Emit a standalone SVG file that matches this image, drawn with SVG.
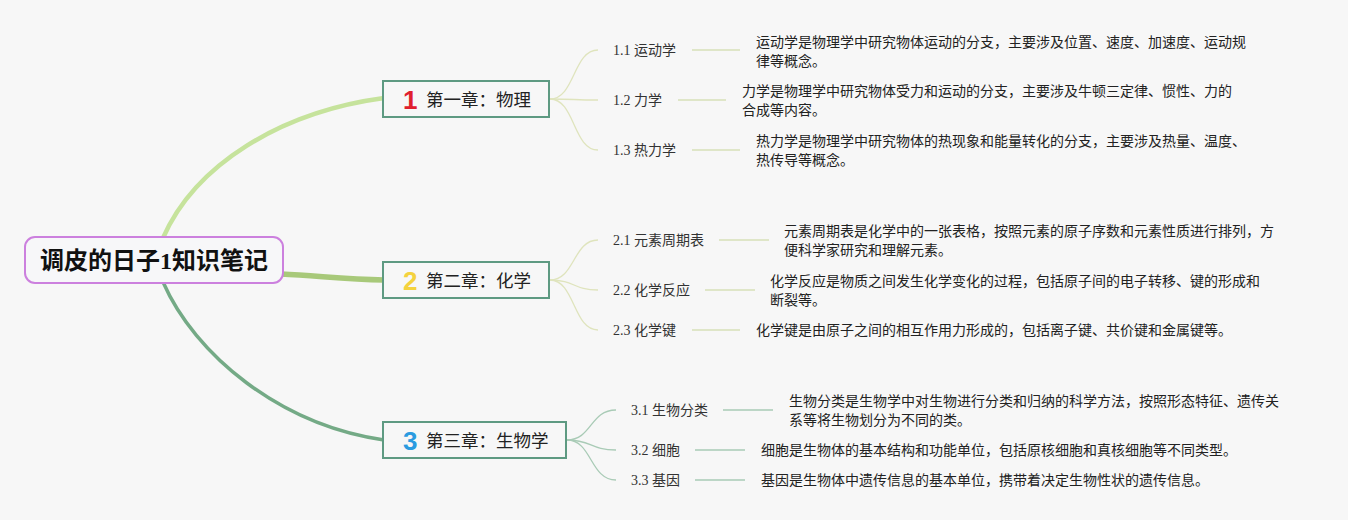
<svg xmlns="http://www.w3.org/2000/svg" width="1348" height="520" viewBox="0 0 1348 520">
<style>
.bg{fill:#f7f7f7}
.root{fill:#f7f7f9;stroke:#cc80de;stroke-width:2}
.roott{font-family:"Liberation Serif","Noto Sans CJK SC",serif;font-size:24px;font-weight:bold;fill:#111}
.chap{fill:#f7f7f7;stroke:#5e9a82;stroke-width:2}
.chapt{font-family:"Noto Sans CJK SC",sans-serif;font-size:17.5px;fill:#222}
.num{font-family:"Liberation Sans","Noto Sans CJK SC",sans-serif;font-size:26px;font-weight:bold}
.lab{font-family:"Liberation Serif","Noto Sans CJK SC",serif;font-size:14px;fill:#333}
.desc{font-family:"Noto Sans CJK SC",sans-serif;font-size:14px;fill:#222}
.s1{fill:none;stroke:#dfe4bd;stroke-width:1.3}
.s3{fill:none;stroke:#a9cbb6;stroke-width:1.3}
.u1{stroke:#dfe6c8;stroke-width:2}
.u3{stroke:#bcd6c6;stroke-width:2}
</style>
<rect class="bg" x="0" y="0" width="1348" height="520"/>
<g id="connectors">
<path d="M163 238 C195 165 280 112 384 98" fill="none" stroke="#c6e39c" stroke-width="4.5"/>
<path d="M281 274 C320 276 345 279 384 280" fill="none" stroke="#a8c97a" stroke-width="5.5"/>
<path d="M163 282 C195 355 280 425 384 440" fill="none" stroke="#74aa86" stroke-width="3.5"/>
<path class="s1" d="M550 99 C575 99 573 50 598 50"/>
<path class="s1" d="M550 99 C575 99 573 100 598 100"/>
<path class="s1" d="M550 99 C575 99 573 150 598 150"/>
<path class="s1" d="M550 280 C575 280 573 240 598 240"/>
<path class="s1" d="M550 280 C575 280 573 290 598 290"/>
<path class="s1" d="M550 280 C575 280 573 330 598 330"/>
<path class="s3" d="M567 440 C592 440 590 410 616 410"/>
<path class="s3" d="M567 440 C592 440 590 450 616 450"/>
<path class="s3" d="M567 440 C592 440 590 480 616 480"/>
<line class="u1" x1="692" y1="50" x2="740" y2="50"/>
<line class="u1" x1="678" y1="100" x2="726" y2="100"/>
<line class="u1" x1="692" y1="150" x2="740" y2="150"/>
<line class="u1" x1="719" y1="240" x2="769" y2="240"/>
<line class="u1" x1="705" y1="290" x2="755" y2="290"/>
<line class="u1" x1="692" y1="330" x2="740" y2="330"/>
<line class="u3" x1="723" y1="410" x2="773" y2="410"/>
<line class="u3" x1="695" y1="450" x2="745" y2="450"/>
<line class="u3" x1="695" y1="480" x2="745" y2="480"/>
</g>
<g id="root">
<rect class="root" x="25" y="237" width="258" height="46" rx="10"/>
<text class="roott" x="154" y="269" text-anchor="middle">调皮的日子1知识笔记</text>
</g>
<g id="chapter1">
<rect class="chap" x="383" y="81" width="166" height="36"/>
<text class="num" x="403" y="109" fill="#e0202e">1</text>
<text class="chapt" x="426" y="106">第一章：物理</text>
</g>
<g id="chapter2">
<rect class="chap" x="383" y="262" width="166" height="36"/>
<text class="num" x="403" y="290" fill="#f4d23e">2</text>
<text class="chapt" x="426" y="287">第二章：化学</text>
</g>
<g id="chapter3">
<rect class="chap" x="383" y="422" width="183" height="36"/>
<text class="num" x="403" y="450" fill="#2b9be0">3</text>
<text class="chapt" x="426" y="447">第三章：生物学</text>
</g>
<g id="n11"><text class="lab" x="613" y="55">1.1 运动学</text>
<text class="desc" x="756" y="47">运动学是物理学中研究物体运动的分支，主要涉及位置、速度、加速度、运动规</text>
<text class="desc" x="756" y="66">律等概念。</text></g>
<g id="n12"><text class="lab" x="613" y="105">1.2 力学</text>
<text class="desc" x="742" y="96">力学是物理学中研究物体受力和运动的分支，主要涉及牛顿三定律、惯性、力的</text>
<text class="desc" x="742" y="115">合成等内容。</text></g>
<g id="n13"><text class="lab" x="613" y="155">1.3 热力学</text>
<text class="desc" x="756" y="146">热力学是物理学中研究物体的热现象和能量转化的分支，主要涉及热量、温度、</text>
<text class="desc" x="756" y="165">热传导等概念。</text></g>
<g id="n21"><text class="lab" x="613" y="245">2.1 元素周期表</text>
<text class="desc" x="784" y="236">元素周期表是化学中的一张表格，按照元素的原子序数和元素性质进行排列，方</text>
<text class="desc" x="784" y="255">便科学家研究和理解元素。</text></g>
<g id="n22"><text class="lab" x="613" y="295">2.2 化学反应</text>
<text class="desc" x="770" y="286">化学反应是物质之间发生化学变化的过程，包括原子间的电子转移、键的形成和</text>
<text class="desc" x="770" y="305">断裂等。</text></g>
<g id="n23"><text class="lab" x="613" y="335">2.3 化学键</text>
<text class="desc" x="756" y="335">化学键是由原子之间的相互作用力形成的，包括离子键、共价键和金属键等。</text></g>
<g id="n31"><text class="lab" x="631" y="415">3.1 生物分类</text>
<text class="desc" x="789" y="406">生物分类是生物学中对生物进行分类和归纳的科学方法，按照形态特征、遗传关</text>
<text class="desc" x="789" y="425">系等将生物划分为不同的类。</text></g>
<g id="n32"><text class="lab" x="631" y="455">3.2 细胞</text>
<text class="desc" x="761" y="455">细胞是生物体的基本结构和功能单位，包括原核细胞和真核细胞等不同类型。</text></g>
<g id="n33"><text class="lab" x="631" y="485">3.3 基因</text>
<text class="desc" x="761" y="485">基因是生物体中遗传信息的基本单位，携带着决定生物性状的遗传信息。</text></g>
</svg>
